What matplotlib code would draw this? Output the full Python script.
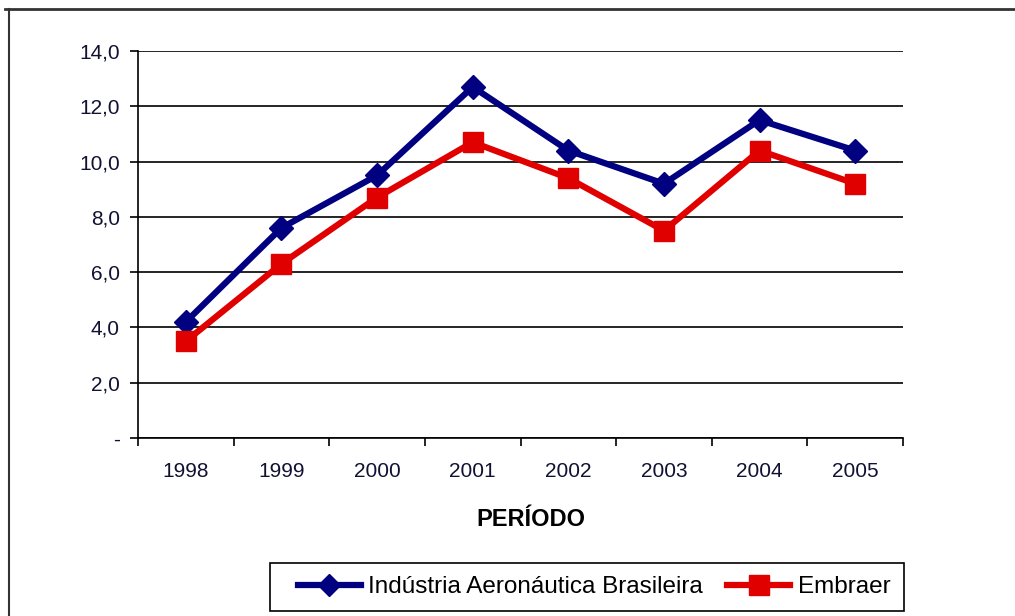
import matplotlib.pyplot as plt
from matplotlib.lines import Line2D
from matplotlib.patches import Rectangle
import numpy as np

plt.rcParams['font.family'] = ['Liberation Sans', 'DejaVu Sans']

# dados
anos = ["1998", "1999", "2000", "2001", "2002", "2003", "2004", "2005"]
industria = [4.2, 7.6, 9.5, 12.7, 10.4, 9.2, 11.5, 10.4]
embraer = [3.5, 6.3, 8.7, 10.7, 9.4, 7.5, 10.4, 9.2]
y_ticks = [0, 2, 4, 6, 8, 10, 12, 14]
y_labels = ["-", "2,0", "4,0", "6,0", "8,0", "10,0", "12,0", "14,0"]

AZUL = "#000080"
VERMELHO = "#e00000"
TEXTO = "#111133"

W, H = 1015, 616
fig = plt.figure(figsize=(W / 100, H / 100), dpi=100)
ax = fig.add_axes([138 / W, 1 - 438 / H, (903 - 138) / W, (438 - 51) / H])

x = np.arange(len(anos))
ax.plot(x, industria, color=AZUL, lw=4.5, marker="D", ms=12.5, zorder=3)
ax.plot(x, embraer, color=VERMELHO, lw=4.5, marker="s", ms=15, zorder=3)

ax.set_xlim(-0.5, len(anos) - 0.5)
ax.set_ylim(0, 14)
ax.set_yticks(y_ticks)
ax.set_yticklabels(y_labels, fontsize=15, color=TEXTO)
ax.yaxis.grid(True, color="black", lw=1.2)
ax.set_axisbelow(True)

# ticks do eixo x entre as categorias
ax.set_xticks(np.arange(len(anos) + 1) - 0.5)
ax.set_xticklabels([])
ax.set_xticks(x, minor=True)
ax.set_xticklabels(anos, minor=True, fontsize=15, color=TEXTO)
ax.tick_params(axis="x", which="minor", length=0, pad=17)
ax.tick_params(axis="x", which="major", length=6, width=1.2, direction="out")
ax.tick_params(axis="y", length=6, width=1.2, direction="out", pad=7)

for lado in ["top", "right"]:
    ax.spines[lado].set_visible(False)
ax.spines["left"].set_linewidth(1.2)
ax.spines["bottom"].set_linewidth(1.2)

fig.text(531 / W, 1 - 519 / H, "PERÍODO", ha="center", va="center",
         fontsize=17, fontweight="bold")

# legenda (caixa desenhada à parte para acertar as margens)
handles = [
    Line2D([], [], color=AZUL, lw=4.5, marker="D", ms=11),
    Line2D([], [], color=VERMELHO, lw=4.5, marker="s", ms=15),
]
fig.legend(handles, ["Indústria Aeronáutica Brasileira", "Embraer"],
           loc="center", bbox_to_anchor=(594 / W, 1 - 587 / H),
           ncol=2, frameon=False, fontsize=17.5,
           handlelength=2.6, handletextpad=0.3, columnspacing=1.0)
fig.add_artist(Rectangle((270 / W, 1 - 611 / H), (904 - 270) / W, 48 / H,
                         transform=fig.transFigure, fill=False,
                         edgecolor="black", lw=1.2))

# moldura externa
fig.add_artist(Line2D([5 / W, 1], [1 - 9 / H, 1 - 9 / H],
                      color="#333333", lw=2, transform=fig.transFigure))
fig.add_artist(Line2D([9 / W, 9 / W], [1 - 9 / H, 0],
                      color="#333333", lw=1.5, transform=fig.transFigure))

fig.savefig("out.png", dpi=100)
